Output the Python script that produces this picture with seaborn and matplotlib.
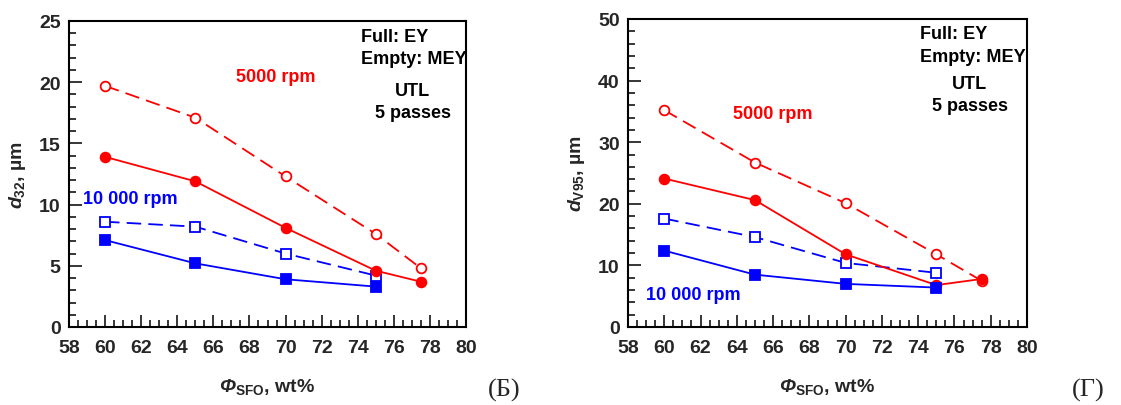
import matplotlib
matplotlib.use("Agg")
import matplotlib.pyplot as plt
import seaborn as sns
import pandas as pd
from matplotlib.ticker import MultipleLocator

sns.set_style("white")
plt.rcParams['font.family'] = ['Liberation Sans', 'DejaVu Sans']
plt.rcParams['font.weight'] = 'bold'
plt.rcParams['mathtext.fontset'] = 'custom'
plt.rcParams['mathtext.rm'] = 'Liberation Sans:bold'
plt.rcParams['mathtext.it'] = 'Liberation Sans:bold:italic'
plt.rcParams['mathtext.bf'] = 'Liberation Sans:bold'
plt.rcParams['mathtext.bfit'] = 'Liberation Sans:bold:italic'

# ---- data ----
x_red = [60, 65, 70, 75, 77.5]
x_blue = [60, 65, 70, 75]

# panel Б: d32
d32_red_mey = [19.7, 17.1, 12.3, 7.6, 4.8]
d32_red_ey = [13.9, 11.9, 8.1, 4.6, 3.7]
d32_blue_mey = [8.6, 8.2, 6.0, 4.2]
d32_blue_ey = [7.1, 5.2, 3.9, 3.3]

# panel Г: dV95
dv95_red_mey = [35.2, 26.7, 20.1, 11.8, 7.5]
dv95_red_ey = [24.1, 20.6, 11.8, 6.8, 7.8]
dv95_blue_mey = [17.6, 14.6, 10.4, 8.8]
dv95_blue_ey = [12.4, 8.5, 7.0, 6.4]

RED = '#ff0000'
BLUE = '#0000ff'

fig = plt.figure(figsize=(11.21, 4.06), dpi=100)
W, H = 1121, 406
ax1 = fig.add_axes([69 / W, (H - 328) / H, 397 / W, 306 / H])
ax2 = fig.add_axes([628 / W, (H - 328) / H, 399 / W, 308 / H])


def draw(ax, red_mey, red_ey, blue_mey, blue_ey):
    sets = [
        (x_red, red_mey, RED, 'o', True),
        (x_red, red_ey, RED, 'o', False),
        (x_blue, blue_mey, BLUE, 's', True),
        (x_blue, blue_ey, BLUE, 's', False),
    ]
    for xs, ys, c, m, empty in sets:
        df = pd.DataFrame({'x': xs, 'y': ys})
        kw = dict(color=c, marker=m, markersize=7 if m == 'o' else 7.5,
                  markeredgecolor=c, markeredgewidth=1.3, linewidth=1.3)
        if empty:
            kw['markerfacecolor'] = 'white'
        else:
            kw['markerfacecolor'] = c
        sns.lineplot(data=df, x='x', y='y', ax=ax, **kw, legend=False)
    lines = ax.get_lines()
    for ln, (_, _, _, _, empty) in zip(lines, sets):
        if empty:
            ln.set_linestyle((0, (8, 4)))
            ln.set_zorder(3)
        else:
            ln.set_zorder(4)


draw(ax1, d32_red_mey, d32_red_ey, d32_blue_mey, d32_blue_ey)
draw(ax2, dv95_red_mey, dv95_red_ey, dv95_blue_mey, dv95_blue_ey)

for ax, ymax, ymaj, ymin in [(ax1, 25, 5, 1), (ax2, 50, 10, 2)]:
    ax.set_xlim(58, 80)
    ax.set_ylim(0, ymax)
    ax.xaxis.set_major_locator(MultipleLocator(2))
    ax.xaxis.set_minor_locator(MultipleLocator(0.5))
    ax.yaxis.set_major_locator(MultipleLocator(ymaj))
    ax.yaxis.set_minor_locator(MultipleLocator(ymin))
    ax.tick_params(which='both', direction='in', top=False, right=False,
                   left=True, bottom=True, labelsize=14, width=1.3)
    ax.tick_params(axis='x', pad=9)
    ax.tick_params(axis='y', pad=6)
    ax.tick_params(which='major', length=9)
    ax.tick_params(which='minor', length=5)
    for lab in ax.get_xticklabels() + ax.get_yticklabels():
        lab.set_fontweight('bold')
    for s in ax.spines.values():
        s.set_linewidth(1.5)
        s.set_color('black')
    ax.set_xlabel(r'$\mathbfit{Φ}_{\mathrm{SFO}}$, wt%', fontsize=14,
                  fontweight='bold', labelpad=14)

ax1.set_ylabel(r'$d_{\mathrm{32}}$, µm', fontsize=14, fontweight='bold', labelpad=8)
ax2.set_ylabel(r'$d_{\mathrm{V95}}$, µm', fontsize=14, fontweight='bold', labelpad=8)

# annotations panel Б
tk = dict(fontsize=13, fontweight='bold')
ax1.text(74.2, 23.7, 'Full: EY', va='center', ha='left', color='black', **tk)
ax1.text(74.2, 21.9, 'Empty: MEY', va='center', ha='left', color='black', **tk)
ax1.text(77.05, 19.3, 'UTL', va='center', ha='center', color='black', **tk)
ax1.text(77.05, 17.5, '5 passes', va='center', ha='center', color='black', **tk)
ax1.text(67.25, 20.5, '5000 rpm', va='center', ha='left', color=RED, **tk)
ax1.text(58.8, 10.5, '10 000 rpm', va='center', ha='left', color=BLUE, **tk)

# annotations panel Г
ax2.text(74.1, 47.6, 'Full: EY', va='center', ha='left', color='black', **tk)
ax2.text(74.1, 43.9, 'Empty: MEY', va='center', ha='left', color='black', **tk)
ax2.text(76.85, 39.6, 'UTL', va='center', ha='center', color='black', **tk)
ax2.text(76.85, 35.9, '5 passes', va='center', ha='center', color='black', **tk)
ax2.text(63.8, 34.6, '5000 rpm', va='center', ha='left', color=RED, **tk)
ax2.text(59.0, 5.3, '10 000 rpm', va='center', ha='left', color=BLUE, **tk)

fig.text(504 / W, 1 - 390 / H, '(Б)', fontsize=19, family='Liberation Serif',
         fontweight='normal', ha='center', va='center')
fig.text(1088 / W, 1 - 390 / H, '(Г)', fontsize=19, family='Liberation Serif',
         fontweight='normal', ha='center', va='center')

fig.savefig('out.png', dpi=100)
